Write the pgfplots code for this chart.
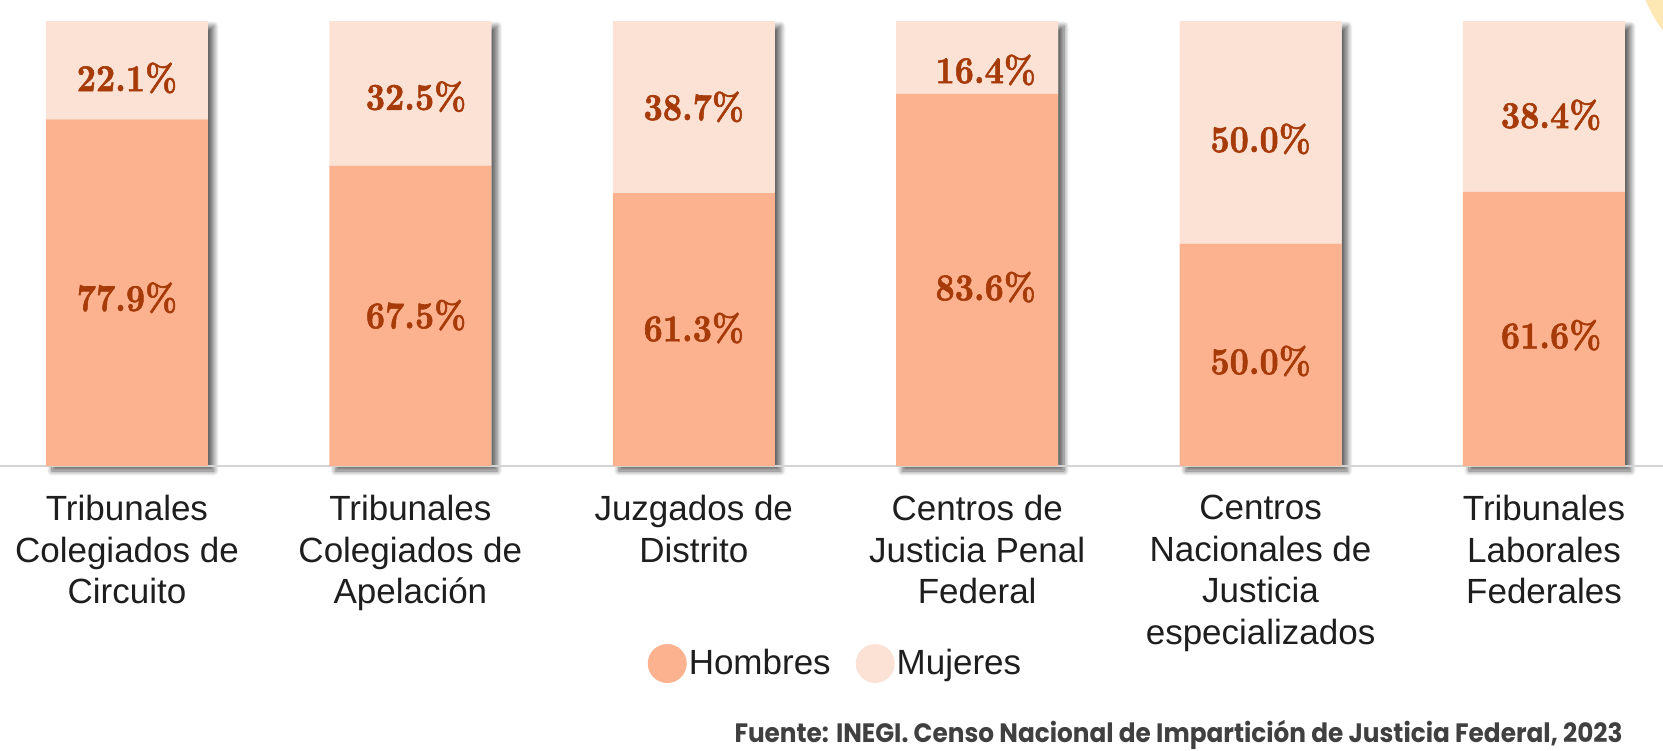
\documentclass[border=0pt]{standalone}
\usepackage{pgfplots}
\pgfplotsset{compat=1.18}
\usepackage{pgfplotstable}
\usepackage{fontspec}
\usepackage{graphicx}
\usetikzlibrary{shadows.blur}
\newfontfamily\arialfont{Liberation Sans}
\newfontfamily\srcfont{Poppins}
\newfontfamily\valfont{lmroman10-bold}[Extension=.otf, FakeBold=1.6]
\definecolor{hcol}{RGB}{253,178,143}
\definecolor{mcol}{RGB}{251,226,213}
\definecolor{valcol}{RGB}{166,58,8}
\definecolor{txtcol}{RGB}{30,30,30}
\definecolor{srccol}{RGB}{64,64,64}
\definecolor{basecol}{RGB}{212,212,212}
\definecolor{arccol}{RGB}{253,231,178}

\pgfplotstableread{
x h m
0 77.9 22.1
1 67.5 32.5
2 61.3 38.7
3 83.6 16.4
4 50.0 50.0
5 61.6 38.4
}\datatab

\pgfplotstableread{
x y v
0     87.2 22.1
0     37.8 77.9
1.02  83.0 32.5
1.02  33.9 67.5
2     80.7 38.7
2     31.0 61.3
3.03  89.0 16.4
3.03  40.2 83.6
4     73.5 50.0
4     23.6 50.0
5.025 78.9 38.4
5.025 29.4 61.6
}\labtab

\pgfplotsset{
  base/.style={
    width=831.5pt, height=222.5pt, scale only axis,
    xmin=-0.448, xmax=5.420, ymin=0, ymax=100, clip=false,
  }
}

\begin{document}
\begin{tikzpicture}
% shadows (one per full bar)
\begin{axis}[base, hide axis, ybar, bar width=81pt]
\addplot[fill=white, draw=none, blur shadow={shadow xshift=3pt, shadow yshift=-2.5pt, shadow blur radius=2.5pt, shadow blur steps=10, shadow opacity=60}] table[x=x, y expr=\thisrow{h}+\thisrow{m}]{\datatab};
\end{axis}
% bars
\begin{axis}[base, ybar stacked, bar width=81pt,
  axis x line*=bottom, axis y line=none, ytick=\empty,
  axis line style={draw=basecol, line width=1.2pt, -},
  xtick={0,1,2,3,4,5}, xtick style={draw=none}, major tick length=0pt,
  xticklabels={{Tribunales\\Colegiados de\\Circuito},{Tribunales\\Colegiados de\\Apelación},{Juzgados de\\Distrito},{Centros de\\Justicia Penal\\Federal},{Centros\\Nacionales de\\Justicia\\especializados},{Tribunales\\Laborales\\Federales}},
  xticklabel style={font=\arialfont\fontsize{17.5}{20.7}\selectfont, text=txtcol, align=center, anchor=north, inner sep=0pt, yshift=-14.5pt},
  legend columns=2,
  legend style={at={(0.5024,-0.4438)}, anchor=center, draw=none, fill=none,
    font=\arialfont\fontsize{17.5}{21}\selectfont, text=txtcol,
    nodes={inner sep=1pt},
    /tikz/every even column/.append style={column sep=11.5pt}},
]
\addplot[fill=hcol, draw=none, legend image code/.code={\fill[hcol] (9.75pt,0pt) circle (9.75pt);}] table[x=x,y=h]{\datatab};
\addplot[fill=mcol, draw=none, legend image code/.code={\fill[mcol] (9.75pt,0pt) circle (9.75pt);}] table[x=x,y=m]{\datatab};
\legend{Hombres, Mujeres}
\fill[arccol] (rel axis cs:1.0643,1.1596) circle (67pt);
\node[anchor=base east, inner sep=0pt, text=srccol] at (rel axis cs:0.9759,-0.6215)
  {\srcfont\bfseries\fontsize{13.3}{16}\selectfont\resizebox{444pt}{\height}{Fuente: INEGI. Censo Nacional de Impartición de Justicia Federal, 2023}};
\coordinate (PBL) at (rel axis cs:0,-0.6382);
\coordinate (PTR) at (rel axis cs:1,1.0472);
\end{axis}
% value labels
\begin{axis}[base, hide axis]
\addplot[draw=none, mark=none, point meta=explicit symbolic,
  nodes near coords={\scalebox{0.88}[1]{\pgfplotspointmeta\%}},
  every node near coord/.append style={anchor=center, inner sep=0pt, text=valcol, font=\valfont\fontsize{19}{19}\selectfont}]
  table[x=x, y=y, meta=v]{\labtab};
\end{axis}
\pgfresetboundingbox
\useasboundingbox (PBL) rectangle (PTR);
\end{tikzpicture}
\end{document}
